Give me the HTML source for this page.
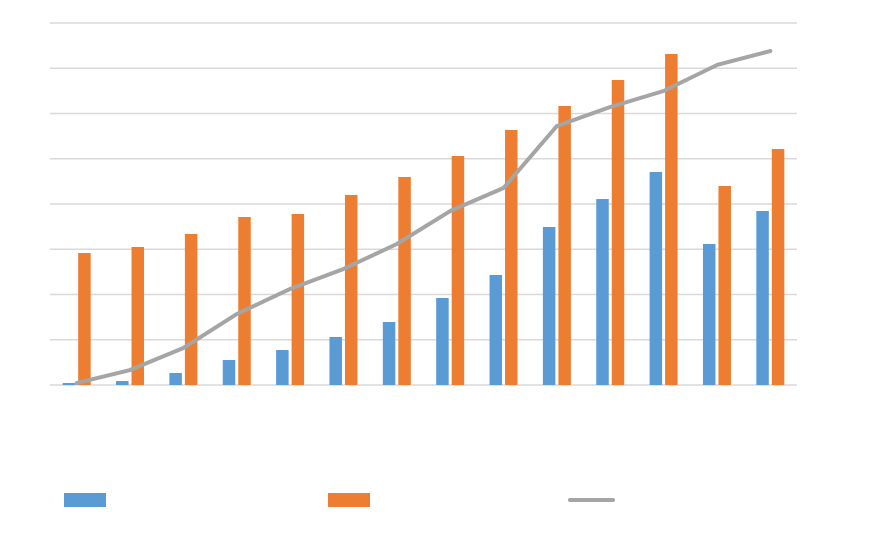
<!DOCTYPE html>
<html><head><meta charset="utf-8"><style>
html,body{margin:0;padding:0;background:#fff;}
svg{display:block;font-family:"Liberation Sans",sans-serif;}
</style></head><body>
<svg id="chart" width="891" height="535">
<g id="grid"></g>
<g id="bars"></g>
<g id="line"></g>
<g>
<rect x="64" y="493" width="42" height="14" fill="#5b9bd5"/>
<rect x="328" y="493" width="42" height="14" fill="#ed7d31"/>
<line x1="570" y1="500" x2="613" y2="500" stroke="#a5a5a5" stroke-width="4" stroke-linecap="round"/>
</g>
</svg>
<script>
const categories = ["1","2","3","4","5","6","7","8","9","10","11","12","13","14"];
const seriesBlue = [44,88,265,552,773,1061,1392,1923,2431,3492,4110,4707,3116,3845];
const seriesOrange = [2917,3050,3337,3713,3779,4199,4597,5061,5635,6166,6740,7315,4398,5215];
const seriesLine = [44,331,818,1569,2122,2564,3116,3845,4354,5724,6144,6497,7072,7381];
const yTicks = [0,1000,2000,3000,4000,5000,6000,7000,8000];

const NS="http://www.w3.org/2000/svg";
const plotLeft=50,plotRight=797,plotTop=23,plotBottom=385,yMax=8000;
const band=(plotRight-plotLeft)/categories.length;
function yScale(v){return plotBottom-(v/yMax)*(plotBottom-plotTop);}
function xc(i){return plotLeft+band*(i+0.5);}
function mk(tag,attrs,parent){const e=document.createElementNS(NS,tag);for(const k in attrs)e.setAttribute(k,attrs[k]);parent.appendChild(e);return e;}

const grid=document.getElementById('grid');
yTicks.forEach((t)=>{
  const l=mk('line',{x1:plotLeft,x2:plotRight,y1:yScale(t),y2:yScale(t),stroke:'#d9d9d9','stroke-width':1.5},grid);
  
  
});
const bars=document.getElementById('bars');
const bw=12.5;
categories.forEach((c,i)=>{
  const b=mk('rect',{x:xc(i)-1.5-bw,y:yScale(seriesBlue[i]),width:bw,height:plotBottom-yScale(seriesBlue[i]),fill:'#5b9bd5'},bars);
  
  
  const o=mk('rect',{x:xc(i)+1.5,y:yScale(seriesOrange[i]),width:bw,height:plotBottom-yScale(seriesOrange[i]),fill:'#ed7d31'},bars);
  
  
});
const lg=document.getElementById('line');
const pts=seriesLine.map((v,i)=>xc(i)+','+yScale(v)).join(' ');
const pl=mk('polyline',{points:pts,fill:'none',stroke:'#a5a5a5','stroke-width':4,'stroke-linejoin':'round','stroke-linecap':'round'},lg);


</script>
</body></html>
